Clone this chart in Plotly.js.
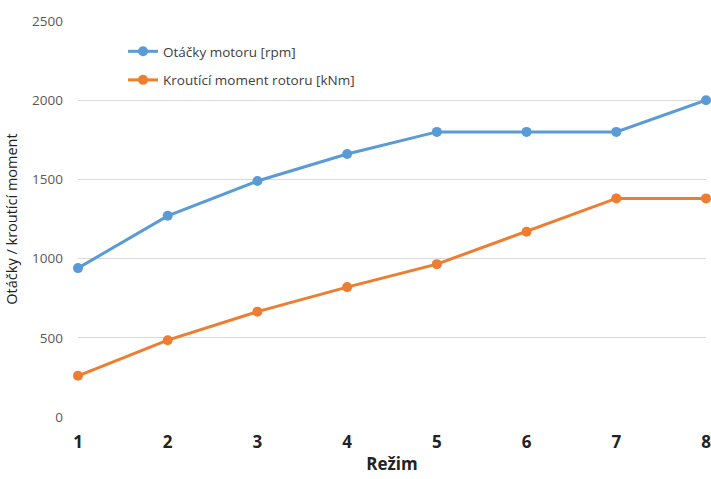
<!DOCTYPE html>
<html>
<head>
<meta charset="utf-8">
<script src="https://cdn.plot.ly/plotly-3.0.1.min.js"></script>
<style>
  html, body { margin: 0; padding: 0; background: #fff; }
  #chart { width: 711px; height: 479px; }
</style>
</head>
<body>
<div id="chart"></div>
<script>
// Operating modes (x axis)
const rezim = [1, 2, 3, 4, 5, 6, 7, 8];
// Engine speed [rpm]
const otackyMotoru = [940, 1270, 1490, 1660, 1800, 1800, 1800, 2000];
// Rotor torque [kNm]
const krouticiMoment = [260, 485, 665, 820, 965, 1170, 1380, 1380];

const yTicks = [0, 500, 1000, 1500, 2000, 2500];
const xTicks = rezim.map(String);

const FONT = '"Open Sans", "Liberation Sans", sans-serif';

const traces = [
  {
    x: rezim, y: otackyMotoru, name: 'Otáčky motoru [rpm]',
    type: 'scatter', mode: 'lines+markers', legendgroup: 'a',
    line: { color: '#5B9BD5', width: 3 },
    marker: { color: '#5B9BD5', size: 10 },
    cliponaxis: false
  },
  {
    x: rezim, y: krouticiMoment, name: 'Kroutící moment rotoru [kNm]',
    type: 'scatter', mode: 'lines+markers', legendgroup: 'b',
    line: { color: '#ED7D31', width: 3 },
    marker: { color: '#ED7D31', size: 10 },
    cliponaxis: false
  }
];

const layout = {
  width: 711, height: 479,
  margin: { l: 78, r: 5, t: 21, b: 62 },
  paper_bgcolor: '#fff', plot_bgcolor: '#fff',
  font: { family: FONT, color: '#404040' },
  showlegend: true,
  legend: {
    x: 0.0717, y: 0.962, xanchor: 'left', yanchor: 'top',
    bgcolor: 'rgba(0,0,0,0)', tracegroupgap: 8,
    font: { size: 13.5, color: '#404040', family: FONT }
  },
  xaxis: {
    range: [1, 8], tickvals: rezim, ticktext: xTicks,
    showgrid: false, zeroline: false, showline: false, ticks: '',
    ticklabeloverflow: 'allow',
    tickfont: { size: 17, color: '#222', family: FONT, weight: 'bold' },
    ticklabelstandoff: 13,
    title: { text: '<b>Režim</b>', font: { size: 17, color: '#222', family: FONT }, standoff: 6 }
  },
  yaxis: {
    range: [0, 2500], tickvals: yTicks,
    showgrid: true, gridcolor: '#d9d9d9', gridwidth: 1,
    zeroline: false, showline: false, ticks: '',
    tickfont: { size: 13.5, color: '#595959', family: FONT },
    ticklabelstandoff: 14,
    title: { text: 'Otáčky / kroutící moment', font: { size: 14.5, color: '#222', family: FONT }, standoff: 11 }
  }
};

Plotly.newPlot('chart', traces, layout, { displayModeBar: false, staticPlot: true });
</script>
</body>
</html>
